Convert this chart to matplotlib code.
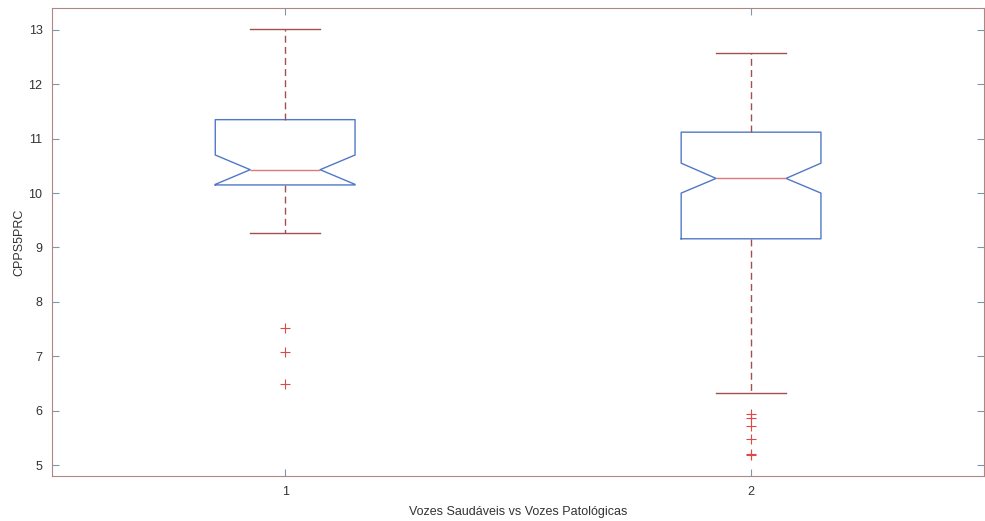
#!/usr/bin/env python3
"""Notched boxplot of CPPS5PRC, healthy vs pathological voices."""

import matplotlib
matplotlib.use("Agg")
import matplotlib.pyplot as plt

plt.rcParams["font.family"] = ["Liberation Sans", "DejaVu Sans"]

GROUPS = ["1", "2"]
WHISK_LO = [9.27, 6.33]
Q1 = [10.15, 9.16]
MEDIAN = [10.43, 10.27]
Q3 = [11.35, 11.12]
WHISK_HI = [13.02, 12.58]
CI_LO = [10.16, 10.00]
CI_HI = [10.70, 10.55]
OUTLIERS = [
    [7.52, 7.08, 6.49],
    [5.94, 5.86, 5.71, 5.48, 5.21, 5.19],
]

BOX_C = "#5078c8"
MED_C = "#e07878"
WHISK_C = "#a05050"
AX_C = "#b08585"


def main():
    stats = []
    for i in range(len(GROUPS)):
        stats.append(dict(label=GROUPS[i], whislo=WHISK_LO[i], q1=Q1[i], med=MEDIAN[i],
                          q3=Q3[i], whishi=WHISK_HI[i], cilo=CI_LO[i], cihi=CI_HI[i],
                          fliers=OUTLIERS[i]))

    fig = plt.figure(figsize=(9.85, 5.21), dpi=100)
    ax = fig.add_axes([0.053, 0.0864, 0.946, 0.898])
    ax.bxp(stats, positions=[1, 2], widths=0.3, shownotches=True,
           boxprops=dict(color=BOX_C, lw=1.0),
           medianprops=dict(color=MED_C, lw=1.0),
           whiskerprops=dict(color=WHISK_C, lw=1.0, ls=(0, (5, 3))),
           capprops=dict(color=WHISK_C, lw=1.0),
           flierprops=dict(marker="+", markeredgecolor="#e04848", markersize=7,
                           markeredgewidth=0.8, ls="none"))

    ax.set_xlim(0.5, 2.5)
    ax.set_ylim(4.8, 13.4)
    ax.set_yticks(range(5, 14))
    ax.set_xticks([1, 2])
    ax.set_xticklabels(GROUPS)
    ax.tick_params(direction="in", length=5, width=0.8, color="#7f98a8",
                   labelcolor="#333333", labelsize=9, top=True, right=True, pad=7)
    for s in ax.spines.values():
        s.set_color(AX_C)
        s.set_linewidth(0.8)
    ax.set_xlabel("Vozes Saudáveis vs Vozes Patológicas", fontsize=9, color="#333333",
                  labelpad=6)
    ax.set_ylabel("CPPS5PRC", fontsize=9, color="#333333", labelpad=2)

    fig.savefig("out.png", dpi=100)


if __name__ == "__main__":
    main()
